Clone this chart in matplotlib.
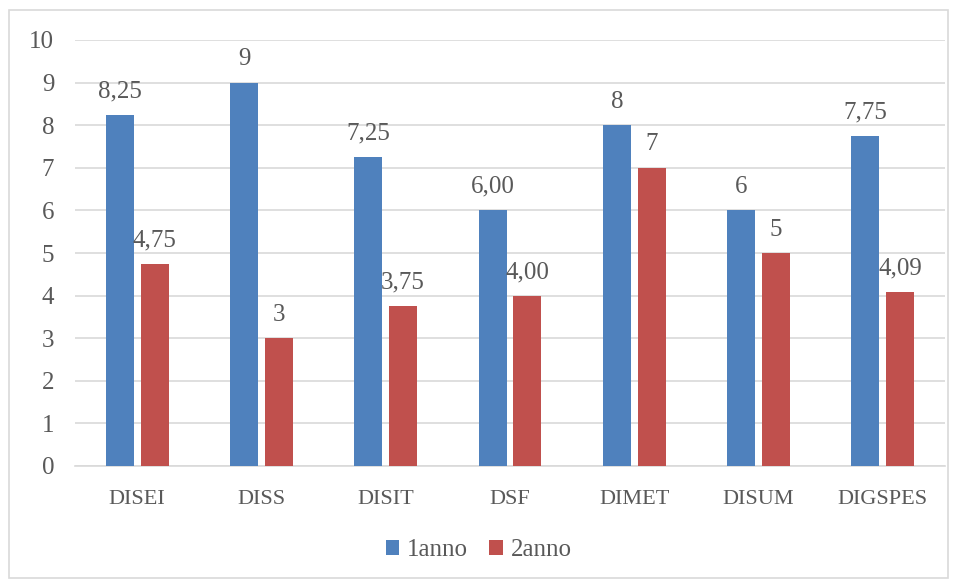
import matplotlib
matplotlib.use("Agg")
import matplotlib.pyplot as plt
from matplotlib.patches import Rectangle
import numpy as np

categories = ["DISEI", "DISS", "DISIT", "DSF", "DIMET", "DISUM", "DIGSPES"]
anno1 = [8.25, 9, 7.25, 6.00, 8, 6, 7.75]
anno2 = [4.75, 3, 3.75, 4.00, 7, 5, 4.09]
labels1 = ["8,25", "9", "7,25", "6,00", "8", "6", "7,75"]
labels2 = ["4,75", "3", "3,75", "4,00", "7", "5", "4,09"]
series_names = ["1anno", "2anno"]

plt.rcParams['font.family'] = ['Liberation Serif', 'DejaVu Serif']
txt = '#595959'

fig = plt.figure(figsize=(9.57, 5.8), dpi=100)
fig.patches.append(Rectangle((9/957, 1-578/580), 939/957, 568/580, transform=fig.transFigure,
                             fill=False, edgecolor='#D9D9D9', linewidth=1.2))
ax = fig.add_axes([75/957, 1-466/580, 870/957, 426/580])

x = np.arange(len(categories))
w = 0.225
off = 0.14
b1 = ax.bar(x - off, anno1, w, color='#4F81BD', label=series_names[0], zorder=3)
b2 = ax.bar(x + off, anno2, w, color='#C0504D', label=series_names[1], zorder=3)

for bars, labs in ((b1, labels1), (b2, labels2)):
    for rect, lab in zip(bars, labs):
        ax.text(rect.get_x() + rect.get_width()/2, rect.get_height() + 0.41, lab,
                ha='center', va='baseline', fontsize=18, color=txt)

ax.set_xlim(-0.5, len(categories) - 0.5)
ax.set_ylim(0, 10)
ax.set_yticks(range(0, 11))
ax.set_xticks(x)
ax.set_xticklabels(categories)
ax.yaxis.grid(True, color='#D9D9D9', linewidth=1.2, zorder=0)
for s in ['top', 'right', 'left']:
    ax.spines[s].set_visible(False)
ax.spines['bottom'].set_color('#D9D9D9')
ax.spines['bottom'].set_linewidth(1.2)
ax.tick_params(axis='both', length=0, labelcolor=txt)
ax.tick_params(axis='y', pad=15, labelsize=18)
ax.tick_params(axis='x', pad=17, labelsize=16)

fig.legend(handles=[b1, b2], labels=series_names, loc='center', bbox_to_anchor=(0.5, 1-550/580),
           ncol=2, frameon=False, fontsize=18, labelcolor=txt, handlelength=0.55, handleheight=0.55,
           handletextpad=0.3, columnspacing=0.85)

fig.savefig("out.png", dpi=100)
